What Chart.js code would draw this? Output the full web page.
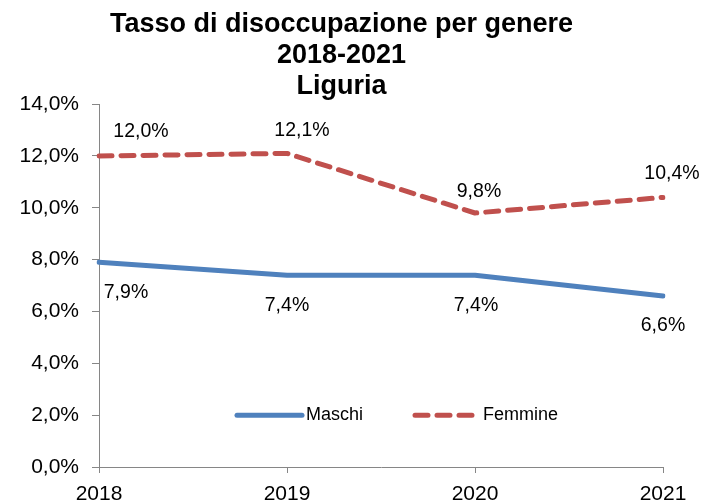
<!DOCTYPE html>
<html><head><meta charset="utf-8">
<script src="https://cdn.jsdelivr.net/npm/chart.js@4.4.1/dist/chart.umd.min.js"></script>
<style>html,body{margin:0;padding:0;background:#fff}#wrap{width:703px;height:503px}</style>
</head><body><div id="wrap"><canvas id="c" width="703" height="503"></canvas></div>
<script>
const categories = ['2018', '2019', '2020', '2021'];
const maschi = [7.9, 7.4, 7.4, 6.6];
const femmine = [12.0, 12.1, 9.8, 10.4];
const seriesNames = ['Maschi', 'Femmine'];
const yTicks = [0, 2, 4, 6, 8, 10, 12, 14];
const titleLines = ['Tasso di disoccupazione per genere', '2018-2021', 'Liguria'];

const fmt = v => v.toFixed(1).replace('.', ',') + '%';
const FONT = "'Liberation Sans', Arial, sans-serif";

const labelOffsets = [
  [[27, 30], [0, 30], [1, 30], [0, 30]],
  [[42, -24], [15, -23], [4, -21], [9, -24]]
];

const dataLabels = {
  id: 'dataLabels',
  afterDatasetsDraw(chart) {
    const ctx = chart.ctx;
    ctx.save();
    ctx.font = '19.5px ' + FONT;
    ctx.fillStyle = '#000';
    ctx.textAlign = 'center';
    ctx.textBaseline = 'middle';
    chart.data.datasets.forEach((ds, di) => {
      const meta = chart.getDatasetMeta(di);
      meta.data.forEach((pt, i) => {
        const o = labelOffsets[di][i];
        ctx.fillText(fmt(ds.data[i]), pt.x + o[0], pt.y + o[1]);
      });
    });
    ctx.restore();
  }
};

const innerLegend = {
  id: 'innerLegend',
  afterDraw(chart) {
    const ctx = chart.ctx;
    const y = chart.scales.y.getPixelForValue(2);
    const a = chart.chartArea;
    const items = [
      { x0: a.left + 138, x1: a.left + 203, tx: a.left + 207, ds: chart.data.datasets[0] },
      { x0: a.left + 316, x1: a.left + 373, tx: a.left + 384, ds: chart.data.datasets[1] }
    ];
    ctx.save();
    items.forEach(it => {
      ctx.beginPath();
      ctx.lineWidth = it.ds.borderWidth;
      ctx.strokeStyle = it.ds.borderColor;
      ctx.lineCap = 'round';
      ctx.setLineDash(it.ds.borderDash || []);
      ctx.moveTo(it.x0, y);
      ctx.lineTo(it.x1, y);
      ctx.stroke();
      ctx.setLineDash([]);
      ctx.font = '18px ' + FONT;
      ctx.fillStyle = '#000';
      ctx.textAlign = 'left';
      ctx.textBaseline = 'middle';
      ctx.fillText(it.ds.label, it.tx, y);
    });
    ctx.restore();
  }
};

new Chart(document.getElementById('c'), {
  type: 'line',
  data: {
    labels: categories,
    datasets: [
      { label: seriesNames[0], data: maschi, borderColor: '#4F81BD', backgroundColor: '#4F81BD',
        borderWidth: 5, pointRadius: 0, borderJoinStyle: 'round', borderCapStyle: 'round', tension: 0 },
      { label: seriesNames[1], data: femmine, borderColor: '#C0504D', backgroundColor: '#C0504D',
        borderWidth: 5, borderDash: [13, 9], pointRadius: 0, borderJoinStyle: 'round', borderCapStyle: 'round', tension: 0 }
    ]
  },
  options: {
    responsive: false,
    animation: false,
    devicePixelRatio: 1,
    layout: { padding: { left: 20, right: 40, top: 0, bottom: 0 } },
    plugins: {
      legend: { display: false },
      tooltip: { enabled: false },
      title: {
        display: true,
        text: titleLines,
        color: '#000',
        font: { family: FONT, size: 27, weight: 'bold', lineHeight: 1.15 },
        padding: { top: 9, bottom: 2 }
      }
    },
    scales: {
      x: {
        offset: false,
        grid: { drawOnChartArea: false, drawTicks: true, tickLength: 6, color: '#868686' },
        border: { color: '#868686', width: 1 },
        ticks: { color: '#000', font: { family: FONT, size: 21 }, padding: 9, maxRotation: 0, autoSkip: false },
        afterFit(s) { s.height = 36; }
      },
      y: {
        min: 0, max: 14,
        afterBuildTicks(s) { s.ticks = yTicks.map(v => ({ value: v })); },
        grid: { drawOnChartArea: false, drawTicks: true, tickLength: 7, color: '#868686' },
        border: { color: '#868686', width: 1 },
        ticks: { color: '#000', font: { family: FONT, size: 21 }, padding: 13, callback: v => fmt(v) },
        afterFit(s) { s.width = 79; }
      }
    }
  },
  plugins: [dataLabels, innerLegend]
});
</script></body></html>
